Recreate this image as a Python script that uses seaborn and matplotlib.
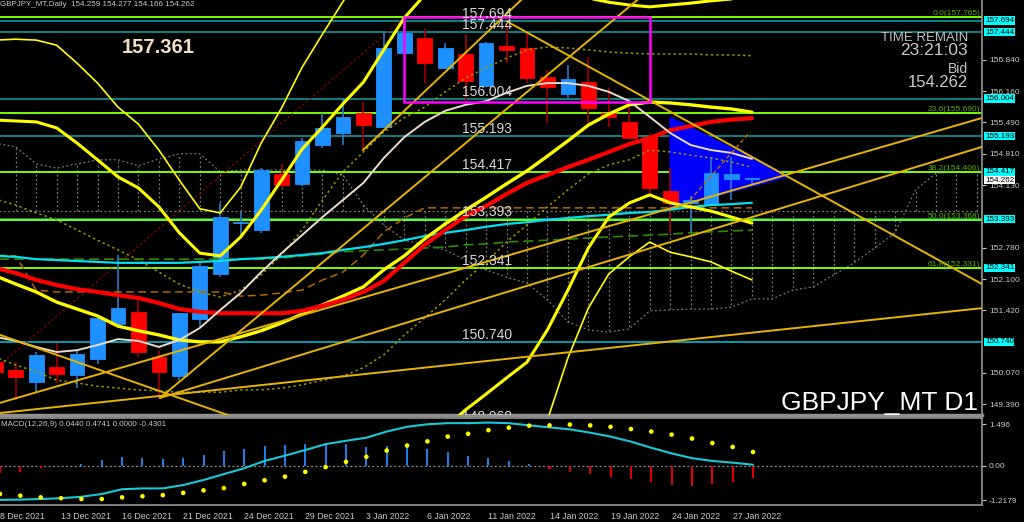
import numpy as np
import pandas as pd
import matplotlib
matplotlib.use("Agg")
import matplotlib.pyplot as plt
import matplotlib.transforms as mtransforms
from matplotlib.patches import Rectangle, Polygon
import seaborn as sns

# ---------------- data ----------------
dates = ["8 Dec 2021", "9 Dec 2021", "10 Dec 2021", "13 Dec 2021", "14 Dec 2021", "15 Dec 2021",
         "16 Dec 2021", "17 Dec 2021", "20 Dec 2021", "21 Dec 2021", "22 Dec 2021", "23 Dec 2021",
         "24 Dec 2021", "27 Dec 2021", "28 Dec 2021", "29 Dec 2021", "30 Dec 2021", "31 Dec 2021",
         "3 Jan 2022", "4 Jan 2022", "5 Jan 2022", "6 Jan 2022", "7 Jan 2022", "10 Jan 2022",
         "11 Jan 2022", "12 Jan 2022", "13 Jan 2022", "14 Jan 2022", "17 Jan 2022", "18 Jan 2022",
         "19 Jan 2022", "20 Jan 2022", "21 Jan 2022", "24 Jan 2022", "25 Jan 2022", "26 Jan 2022",
         "27 Jan 2022", "28 Jan 2022"]
opens = [150.31, 150.13, 149.88, 150.20, 150.02, 150.36, 151.12, 151.39, 150.41, 150.00, 151.23, 152.20,
         153.31, 153.15, 154.37, 154.16, 154.99, 155.25, 155.69, 155.38, 156.99, 157.32, 156.66, 156.98,
         156.28, 157.14, 157.11, 156.47, 156.10, 156.36, 155.69, 155.50, 155.17, 154.00, 153.74, 153.72,
         154.26, 154.259]
highs = [150.40, 150.31, 150.51, 150.72, 150.56, 151.32, 152.62, 151.72, 150.55, 151.37, 152.48, 153.74,
         153.56, 154.50, 154.59, 155.15, 155.69, 156.01, 155.94, 157.45, 157.765, 157.50, 157.21, 157.40,
         157.22, 157.62, 157.45, 156.62, 156.73, 156.91, 156.23, 155.94, 155.25, 154.50, 153.90, 154.73,
         154.73, 154.277]
lows = [149.95, 149.48, 149.66, 149.84, 149.74, 150.26, 151.10, 150.42, 149.55, 149.92, 151.07, 152.15,
        153.06, 153.10, 154.10, 154.12, 154.93, 154.99, 154.89, 155.38, 156.95, 156.34, 156.66, 155.94,
        156.25, 156.77, 156.34, 155.47, 156.01, 155.47, 155.40, 155.15, 153.92, 153.10, 153.10, 153.70,
        153.81, 154.166]
closes = [150.09, 149.97, 150.46, 150.04, 150.48, 151.26, 151.48, 150.51, 150.08, 151.37, 152.38, 153.45,
          153.33, 154.46, 154.13, 155.09, 155.36, 155.60, 155.43, 157.11, 157.42, 156.78, 157.11, 156.39,
          157.20, 157.06, 156.46, 156.26, 156.42, 155.81, 155.61, 155.16, 154.06, 153.75, 153.82, 154.40,
          154.37, 154.262]

ma_red = [152.34, 152.23, 152.08, 151.97, 151.88, 151.82, 151.75, 151.69, 151.58, 151.45, 151.39, 151.36,
          151.36, 151.36, 151.36, 151.41, 151.52, 151.65, 151.82, 152.06, 152.45, 152.84, 153.16, 153.46,
          153.68, 153.94, 154.18, 154.35, 154.52, 154.68, 154.85, 155.02, 155.15, 155.32, 155.41, 155.50,
          155.55, 155.58]
ma_white = [150.85, 150.76, 150.63, 150.52, 150.56, 150.67, 150.80, 150.76, 150.63, 150.78, 151.04, 151.43,
            151.80, 152.25, 152.66, 153.05, 153.44, 153.81, 154.18, 154.72, 155.17, 155.50, 155.74, 155.87,
            155.95, 156.13, 156.28, 156.34, 156.34, 156.28, 156.15, 155.95, 155.61, 155.26, 155.00, 154.89,
            154.83, 154.70]
ma_cyan = [152.60, 152.58, 152.53, 152.51, 152.49, 152.47, 152.45, 152.45, 152.45, 152.45, 152.47, 152.49,
           152.53, 152.55, 152.58, 152.62, 152.66, 152.73, 152.79, 152.86, 152.94, 153.03, 153.10, 153.16,
           153.23, 153.29, 153.33, 153.38, 153.42, 153.46, 153.49, 153.53, 153.55, 153.60, 153.66, 153.70,
           153.72, 153.75]
ma_green_dash = [152.53, 152.53, 152.53, 152.53, 152.53, 152.53, 152.53, 152.53, 152.53, 152.53, 152.53,
                 152.53, 152.53, 152.53, 152.55, 152.60, 152.64, 152.69, 152.71, 152.73, 152.75, 152.77,
                 152.79, 152.84, 152.86, 152.90, 152.92, 152.94, 152.96, 152.99, 153.01, 153.03, 153.05,
                 153.07, 153.10, 153.12, 153.14, 153.16]
kijun = [152.62, 152.60, 151.86, 151.82, 151.82, 151.82, 151.82, 151.82, 151.82, 151.82, 151.82, 151.82,
         151.73, 151.75, 151.80, 151.86, 152.08, 152.25, 152.62, 153.12, 153.42, 153.64, 153.64, 153.64,
         153.64, 153.64, 153.64, 153.64, 153.64, 153.64, 153.64, 153.64, 153.64, 153.64, 153.64, 153.64,
         153.64, 153.64]

bb_mid = [152.17, 151.99, 151.82, 151.60, 151.45, 151.30, 151.08, 150.98, 150.89, 150.78, 150.74, 150.74,
          150.85, 150.98, 151.15, 151.34, 151.54, 151.73, 151.93, 152.30, 152.60, 152.97, 153.29, 153.59,
          153.87, 154.16, 154.44, 154.76, 155.09, 155.43, 155.67, 155.87, 155.93, 155.91, 155.87, 155.82,
          155.78, 155.71]
bb_up2 = [155.54, 155.52, 155.50, 155.37, 155.04, 154.68, 154.31, 154.07, 153.66, 153.10, 152.66, 152.60,
          153.01, 153.59, 154.24, 154.91, 155.39, 155.89, 156.36, 157.06, 157.75, 158.25, 158.46, 158.57,
          158.61, 158.61, 158.57, 158.46, 158.31, 158.18, 158.09, 158.03, 157.99, 158.03, 158.07, 158.12,
          158.16, 158.18]
bb_lo2 = [148.79, 148.47, 148.14, 147.84, 147.95, 148.08, 147.86, 147.88, 148.12, 148.47, 148.81, 148.88,
          148.68, 148.36, 148.12, 147.84, 147.64, 147.49, 147.49, 147.53, 147.75, 148.29, 148.88, 149.27,
          149.61, 149.96, 150.30, 151.00, 151.86, 152.77, 153.44, 153.745, 153.92, 153.75, 153.66, 153.57,
          153.44, 153.31]
bb_up3 = [157.27, 157.29, 157.27, 157.16, 156.77, 156.34, 155.82, 155.45, 154.89, 154.24, 153.62, 153.53,
          154.09, 155.04, 155.80, 156.68, 157.40, 158.10, 158.80, 159.44, 159.60, 159.70, 159.80, 159.80,
          159.80, 159.80, 159.70, 159.60, 159.50, 159.40, 159.30, 159.20, 159.10, 159.10, 159.10, 159.10,
          159.10, 159.10]
bb_lo3 = [147.06, 146.69, 146.37, 146.04, 146.13, 146.26, 146.34, 146.50, 146.89, 147.32, 147.86, 147.95,
          147.66, 146.95, 146.60, 146.17, 145.80, 145.50, 145.15, 145.37, 145.80, 146.45, 147.10, 147.64,
          148.08, 148.51, 148.83, 149.05, 150.39, 151.47, 152.21, 152.58, 152.90, 152.68, 152.58, 152.47,
          152.27, 152.08]
bb_up1 = [153.83, 153.70, 153.53, 153.38, 153.16, 152.94, 152.73, 152.51, 152.25, 151.99, 151.82, 151.71,
          151.86, 152.19, 152.62, 153.16, 153.81, 154.42, 154.85, 155.28, 155.59, 155.82, 156.15, 156.45,
          156.67, 156.88, 157.06, 157.12, 157.10, 157.06, 157.01, 156.99, 156.97, 156.97, 156.97, 156.95,
          156.95, 156.93]
bb_lo1 = [150.41, 150.24, 150.09, 149.91, 149.85, 149.78, 149.74, 149.70, 149.68, 149.65, 149.65, 149.65,
          149.70, 149.70, 149.74, 149.81, 149.91, 150.00, 150.18, 150.46, 150.89, 151.26, 151.65, 152.08,
          152.47, 152.90, 153.27, 153.66, 154.03, 154.37, 154.57, 154.68, 154.89, 154.85, 154.78, 154.72,
          154.63, 154.52]

# Ichimoku cloud (shifted 26 bars ahead -> 49 slots)
cloud_span_a = [155.04, 154.96, 154.59, 154.50, 154.59, 154.68, 154.68, 154.55, 154.70, 154.81, 154.81,
                154.42, 154.46, 154.46, 154.46, 154.46, 154.46, 154.35, 153.70, 153.27, 152.94, 152.84,
                152.73, 152.51, 152.30, 152.14, 152.01, 151.65, 151.17, 151.00, 150.95, 151.02, 151.41,
                151.43, 151.45, 151.45, 151.49, 151.67, 151.67, 151.86, 151.93, 152.19, 152.45, 152.77,
                153.10, 154.03, 154.39, 154.42, 154.42]
cloud_span_b = [153.58] * 49

# MACD(12,26,9)
macd_main = [-1.21, -1.20, -1.18, -1.15, -1.10, -1.00, -0.83, -0.80, -0.80, -0.68, -0.50, -0.29, -0.08,
             0.18, 0.37, 0.57, 0.78, 0.90, 1.01, 1.23, 1.40, 1.49, 1.53, 1.53, 1.55, 1.53, 1.45, 1.38,
             1.31, 1.19, 1.05, 0.87, 0.65, 0.45, 0.28, 0.18, 0.12, 0.044]
macd_signal = [-1.00, -1.06, -1.12, -1.15, -1.18, -1.18, -1.12, -1.08, -1.04, -0.96, -0.87, -0.79, -0.64,
               -0.51, -0.38, -0.21, -0.04, 0.15, 0.33, 0.55, 0.73, 0.88, 1.05, 1.15, 1.28, 1.37, 1.44,
               1.45, 1.48, 1.45, 1.40, 1.32, 1.23, 1.12, 0.98, 0.82, 0.68, 0.50]
macd_hist = [-0.25, -0.20, -0.06, 0.01, 0.07, 0.21, 0.31, 0.29, 0.24, 0.29, 0.39, 0.54, 0.60, 0.71, 0.74,
             0.79, 0.77, 0.77, 0.68, 0.71, 0.69, 0.60, 0.51, 0.36, 0.29, 0.19, 0.06, -0.11, -0.20, -0.29,
             -0.38, -0.45, -0.57, -0.68, -0.71, -0.64, -0.58, -0.43]

# horizontal levels
levels = [157.694, 157.444, 156.004, 155.193, 154.417, 153.393, 152.341, 150.740, 148.968]
level_labels = ["157.694", "157.444", "156.004", "155.193", "154.417", "153.393", "152.341", "150.740", "148.968"]
fib_levels = [157.765, 155.690, 154.406, 153.368, 152.331]
fib_names = ["0.0", "23.6", "38.2", "50.0", "61.8"]
price_ticks = [156.840, 156.160, 155.490, 154.810, 154.130, 152.780, 152.100, 151.420, 150.070, 149.390]
bid_price = 154.262
big_label = "157.361"

# drawn objects (bar slot, price)
trend_down_main = ([25.0, 48.25], [157.68, 151.99])
trend_down_left = ([0.23, 12.5], [150.89, 148.98])
trend_up_1 = ([0.23, 48.25], [149.20, 151.47])
trend_up_2 = ([0.23, 48.25], [149.42, 155.585])
trend_up_3 = ([8.05, 48.25], [149.525, 154.96])
trend_up_4 = ([8.05, 33.0], [149.525, 158.73])
trend_up_5 = ([17.98, 26.5], [154.89, 158.47])
trend_red_dotted = ([0.23, 20.03], [150.24, 157.765])
trend_dash_small = ([33.97, 36.9], [153.81, 155.28])
triangle_slots = [33.0, 33.0, 38.8]
triangle_prices = [155.60, 153.63, 154.32]
box_slots = [20.0, 32.0]
box_prices = [155.92, 157.765]

# ---------------- style ----------------
sns.set_theme(style="dark", rc={"axes.facecolor": "black", "figure.facecolor": "black",
                                "axes.edgecolor": "#808080", "axes.grid": False,
                                "xtick.color": "#c8c8c8", "ytick.color": "#c8c8c8",
                                "text.color": "#c8c8c8", "patch.edgecolor": "none"})
plt.rcParams["font.family"] = ["Liberation Sans", "DejaVu Sans"]

W, H = 1024, 522
fig = plt.figure(figsize=(W / 100, H / 100), dpi=100)


def rect(x0, y0, x1, y1):
    return [x0 / W, 1 - y1 / H, (x1 - x0) / W, (y1 - y0) / H]


ax = fig.add_axes(rect(0, 0, 982, 415))
axm = fig.add_axes(rect(0, 418, 982, 505))
XL = (0.23, 48.25)
ax.set_xlim(*XL)
ax.set_ylim(149.157, 158.138)
axm.set_xlim(*XL)
axm.set_ylim(-1.393, 1.714)
for a in (ax, axm):
    a.set_facecolor("black")

pos = np.arange(len(dates))
cpos = np.arange(len(cloud_span_a))
DOT = (0, (1.5, 2))

# cloud
ax.vlines(cpos, cloud_span_b, cloud_span_a, colors="#7a7a7a", linestyles=DOT, lw=0.9, zorder=1)
sns.lineplot(x=cpos, y=cloud_span_a, ax=ax, color="#7a7a7a", lw=0.9, linestyle=DOT, zorder=1)
sns.lineplot(x=cpos, y=cloud_span_b, ax=ax, color="#7a7a7a", lw=0.9, linestyle=DOT, zorder=1)

# horizontal levels
for lv, txt in zip(levels, level_labels):
    col = "#00a8c0" if txt == "150.740" else "#0b8c8c"
    ax.axhline(lv, color=col, lw=1.3, zorder=1.5)
for lv in fib_levels:
    ax.axhline(lv, color="#7cfc00", lw=1.4, zorder=1.6)

# triangle and rectangle
ax.add_patch(Polygon(np.column_stack([triangle_slots, triangle_prices]), closed=True,
                     facecolor="#0000ff", edgecolor="#0000ff", zorder=1.7))
ax.add_patch(Rectangle((box_slots[0], box_prices[0]), box_slots[1] - box_slots[0],
                       box_prices[1] - box_prices[0], fill=False, edgecolor="#ff00ff", lw=1.8, zorder=4))

# trend lines
gold = "#e6b400"
for xs, ys in [trend_down_main, trend_down_left, trend_up_1, trend_up_2, trend_up_3, trend_up_4, trend_up_5]:
    sns.lineplot(x=xs, y=ys, ax=ax, color=gold, lw=1.4, zorder=3.5)
sns.lineplot(x=trend_red_dotted[0], y=trend_red_dotted[1], ax=ax, color="#8b0000", lw=1, linestyle=DOT, zorder=1.8)
sns.lineplot(x=trend_dash_small[0], y=trend_dash_small[1], ax=ax, color="#c07000", lw=1,
             linestyle=(0, (3, 2)), zorder=3.5)

# candles
o = np.array(opens); c = np.array(closes); h = np.array(highs); l = np.array(lows)
up = c >= o
wick_col = np.where(up, "#2a78c8", "#a00000")
body_col = np.where(up, "#1e90ff", "#ff0000")
ax.vlines(pos, l, h, colors=wick_col, lw=1.2, zorder=2)
ax.bar(pos, np.maximum(np.abs(c - o), 0.02), bottom=np.minimum(o, c), width=0.72,
       color=body_col, edgecolor=body_col, lw=0.6, zorder=2.2)

# indicator lines
sns.lineplot(x=pos, y=bb_up1, ax=ax, color="#9a9a00", lw=1.1, linestyle=DOT, zorder=2.6)
sns.lineplot(x=pos, y=bb_lo1, ax=ax, color="#9a9a00", lw=1.1, linestyle=DOT, zorder=2.6)
sns.lineplot(x=pos, y=kijun, ax=ax, color="#b06a00", lw=1.1, linestyle=(0, (5, 3)), zorder=2.6)
sns.lineplot(x=pos, y=ma_green_dash, ax=ax, color="#2f8a00", lw=1.2, linestyle=(0, (6, 3)), zorder=2.6)
sns.lineplot(x=pos, y=ma_cyan, ax=ax, color="#00e0f0", lw=1.6, zorder=2.7)
sns.lineplot(x=pos, y=bb_up3, ax=ax, color="#ffff00", lw=1.2, zorder=2.8)
sns.lineplot(x=pos, y=bb_lo3, ax=ax, color="#ffff00", lw=1.2, zorder=2.8)
sns.lineplot(x=pos, y=bb_up2, ax=ax, color="#ffff00", lw=2.2, zorder=2.8)
sns.lineplot(x=pos, y=bb_lo2, ax=ax, color="#ffff00", lw=2.2, zorder=2.8)
sns.lineplot(x=pos, y=bb_mid, ax=ax, color="#ffff00", lw=2.4, zorder=2.8)
sns.lineplot(x=pos, y=ma_red, ax=ax, color="#ff0000", lw=3, zorder=2.9)
sns.lineplot(x=pos, y=ma_white, ax=ax, color="#eadccc", lw=1.4, zorder=2.9)

# level labels in the chart
for lv, txt in zip(levels, level_labels):
    ax.text(22.8, lv, txt, color="#d8d8d8", fontsize=10, va="bottom", ha="left", zorder=5, clip_on=True)

# right axis
blend = mtransforms.blended_transform_factory(ax.transAxes, ax.transData)
ax.yaxis.tick_right()
ax.set_yticks(price_ticks)
ax.set_yticklabels([f"{v:.3f}" for v in price_ticks])
ax.tick_params(axis="y", length=3, width=0.8, labelsize=6, pad=2, colors="#c8c8c8")
ax.set_xticks([])
for lv, txt in zip(levels[:-1], level_labels[:-1]):
    ax.text(1.003, lv, txt, transform=blend, fontsize=5.8, color="#000000", va="center", ha="left",
            bbox=dict(boxstyle="square,pad=0.08", facecolor="#00ffff", edgecolor="none"), zorder=10,
            clip_on=False)
ax.text(1.003, bid_price - 0.02, f"{bid_price:.3f}", transform=blend, fontsize=5.8, color="#000000",
        va="center", ha="left", bbox=dict(boxstyle="square,pad=0.08", facecolor="#ffffff", edgecolor="none"),
        zorder=11, clip_on=False)
for lv, nm in zip(fib_levels, fib_names):
    ax.text(0.998, lv, f"{nm}({lv:.3f})", transform=blend, fontsize=6, color="#58b000", ha="right",
            va="bottom", zorder=5)

for s in ["left", "top"]:
    ax.spines[s].set_visible(False)
ax.spines["right"].set_color("#909090")
ax.spines["bottom"].set_color("#909090")
ax.spines["bottom"].set_linewidth(2.5)

# MACD panel
hist_col = np.where(np.array(macd_hist) >= 0, "#1c7ee6", "#e00000")
axm.bar(pos, macd_hist, width=0.1, color=hist_col, edgecolor="none", zorder=2)
axm.axhline(0, color="#909090", lw=0.9, linestyle=DOT, zorder=1)
sns.lineplot(x=pos, y=macd_main, ax=axm, color="#18c8d8", lw=1.5, zorder=3)
sns.scatterplot(x=pos, y=macd_signal, ax=axm, color="#ffff00", s=11, edgecolor="none", zorder=4, legend=False)
axm.yaxis.tick_right()
axm.set_yticks([1.496, 0.0, -1.2179])
axm.set_yticklabels(["1.496", "0.00", "-1.2179"])
axm.tick_params(axis="y", length=3, width=0.8, labelsize=6, pad=2, colors="#c8c8c8")
axm.set_xticks(pos[::3])
axm.set_xticklabels(dates[::3])
axm.tick_params(axis="x", length=4, width=0.8, labelsize=6.3, pad=1, colors="#c8c8c8", direction="out")
for t in axm.get_xticklabels():
    t.set_ha("left")
axm.spines["left"].set_visible(False)
for s in ["top", "right", "bottom"]:
    axm.spines[s].set_color("#909090")

# captions
fig.text(0 / W, 1 - 1 / H, "GBPJPY_MT,Daily  154.259 154.277 154.166 154.262", fontsize=5.8,
         color="#c8c8c8", va="top", ha="left")
fig.text(1 / W, 1 - 421 / H, "MACD(12,26,9) 0.0440 0.4741 0.0000 -0.4301", fontsize=5.8,
         color="#c8c8c8", va="top", ha="left")
fig.text(122 / W, 1 - 53 / H, big_label, fontsize=14.5, fontweight="bold", color="#f2e0c4",
         va="baseline", ha="left")
fig.text(968 / W, 1 - 41 / H, "TIME REMAIN", fontsize=9.5, color="#c0c0c0", va="baseline", ha="right")
fig.text(968 / W, 1 - 55 / H, "23:21:03", fontsize=12.5, color="#c8c8c8", va="baseline", ha="right")
fig.text(968 / W, 1 - 73 / H, "Bid", fontsize=10, color="#c0c0c0", va="baseline", ha="right")
fig.text(968 / W, 1 - 87 / H, "154.262", fontsize=12, color="#c8c8c8", va="baseline", ha="right")
fig.text(978 / W, 1 - 410 / H, "GBPJPY_MT D1", fontsize=19, color="#ffffff", va="baseline", ha="right")

fig.savefig("out.png", dpi=100, facecolor="black")
